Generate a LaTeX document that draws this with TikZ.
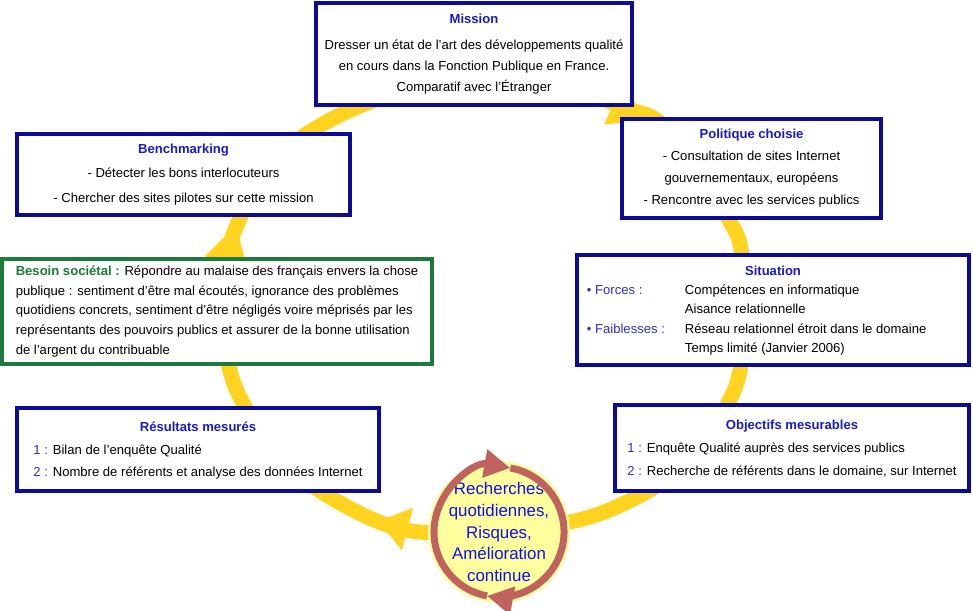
\documentclass[tikz,border=0pt]{standalone}
\usepackage{fontspec}
\setmainfont{Liberation Sans}
\usepackage{tikz}
\usetikzlibrary{arrows.meta, calc}
\definecolor{frameBlue}{HTML}{0B0B98}
\definecolor{titleBlue}{HTML}{1A1ACC}
\definecolor{itemBlue}{HTML}{3030C8}
\definecolor{needGreen}{HTML}{1B7A3C}
\definecolor{ringYellow}{HTML}{FFD320}
\definecolor{loopRed}{HTML}{C2625E}
\definecolor{loopFill}{HTML}{FFFF9E}
\definecolor{loopText}{HTML}{1010E8}
\newcommand{\boxhead}[1]{\textcolor{titleBlue}{\bfseries #1}}
\newcommand{\itemmark}[1]{\textcolor{itemBlue}{#1}}
\tikzset{
    stepframe/.style={rectangle, draw=frameBlue, fill=white, line width=0.1cm, align=center, inner sep=0pt, font=\fontsize{9.3}{15.6}\selectfont},
    needframe/.style={stepframe, draw=needGreen, align=left},
    ring/.style={draw=ringYellow, line width=0.375cm},
    ringhead/.style={fill=ringYellow},
    loopcircle/.style={circle, fill=loopFill, minimum size=3.25cm, inner sep=0pt, align=center, text=loopText, font=\fontsize{12}{15.6}\selectfont},
    looparrow/.style={draw=loopRed, line width=0.175cm, -{Triangle[length=0.65cm 0 1, width=0.68cm 0 1]}},
}

\begin{document}
\begin{tikzpicture}[x=0.025cm, y=0.025cm]
    \useasboundingbox (0,0) rectangle (973,-611);

    % yellow cycle behind the boxes
    \draw[ring] plot[smooth cycle, tension=0.6] coordinates {
        (480,-530) (405,-530) (335,-500) (275,-455) (245,-407) (229,-367)
        (222,-310) (227,-258) (240,-218) (268,-168) (316,-128) (390,-95)
        (480,-78) (565,-88) (625,-108) (668,-130) (729,-220) (742,-255)
        (748,-310) (741,-366) (728,-403) (690,-460) (635,-498) (570,-522)};
    \fill[ringhead, shift={(407.5,-529)}, rotate=165] (30,0) -- (0,22) -- (0,-22) -- cycle;
    \fill[ringhead, shift={(226,-262)}, rotate=75] (38,0) -- (0,22) -- (0,-22) -- cycle;
    \fill[ringhead, shift={(613,-104.5)}, rotate=-24] (38,0) -- (0,22) -- (0,-22) -- cycle;

    \node[stepframe, minimum width=7.9cm, minimum height=2.525cm, font=\fontsize{9.3}{14.9}\selectfont] (mission) at (474,-54)
        {\boxhead{Mission}\\[3.6pt] Dresser un état de l’art des développements qualité\\ en cours dans la Fonction Publique en France.\\ Comparatif avec l’Étranger};
    \node[stepframe, minimum width=8.325cm, minimum height=2.025cm, font=\fontsize{9.3}{17.4}\selectfont] (bench) at (183.5,-174.5)
        {\boxhead{Benchmarking}\\ - Détecter les bons interlocuteurs\\ - Chercher des sites pilotes sur cette mission};
    \node[stepframe, minimum width=6.475cm, minimum height=2.475cm] (policy) at (751.5,-168.5)
        {\boxhead{Politique choisie}\\ - Consultation de sites Internet\\ gouvernementaux, européens\\ - Rencontre avec les services publics};
    \node[needframe, minimum width=10.75cm, minimum height=2.625cm, font=\fontsize{9.3}{13.9}\selectfont] (need) at (217,-311.5)
        {{\color{needGreen}\bfseries Besoin sociétal :} Répondre au malaise des français envers la chose\\
         publique : sentiment d’être mal écoutés, ignorance des problèmes\\
         quotidiens concrets, sentiment d’être négligés voire méprisés par les\\
         représentants des pouvoirs publics et assurer de la bonne utilisation\\
         de l’argent du contribuable};
    \node[stepframe, minimum width=9.8cm, minimum height=2.75cm, font=\fontsize{9.3}{13.7}\selectfont] (situation) at (773,-310)
        {\begin{tabular}{@{}p{2.45cm}@{}p{6.85cm}@{}}
         \multicolumn{2}{c}{\boxhead{Situation}}\\
         \itemmark{• Forces :} & Compétences en informatique\\
          & Aisance relationnelle\\
         \itemmark{• Faiblesses :} & Réseau relationnel étroit dans le domaine\\
          & Temps limité (Janvier 2006)
         \end{tabular}};
    \node[stepframe, minimum width=9.05cm, minimum height=2.075cm, font=\fontsize{9.3}{16}\selectfont] (results) at (198,-449.5)
        {\begin{tabular}{@{}l@{}}
         \multicolumn{1}{@{}c@{}}{\boxhead{Résultats mesurés}}\\
         \itemmark{1 :} Bilan de l’enquête Qualité\\
         \itemmark{2 :} Nombre de référents et analyse des données Internet
         \end{tabular}};
    \node[stepframe, minimum width=8.85cm, minimum height=2.15cm, font=\fontsize{9.3}{16.4}\selectfont] (goals) at (792,-448)
        {\begin{tabular}{@{}l@{}}
         \multicolumn{1}{@{}c@{}}{\boxhead{Objectifs mesurables}}\\
         \itemmark{1 :} Enquête Qualité auprès des services publics\\
         \itemmark{2 :} Recherche de référents dans le domaine, sur Internet
         \end{tabular}};

    % central loop
    \node[loopcircle] (loop) at (499,-532) {Recherches\\ quotidiennes,\\ Risques,\\ Amélioration\\ continue};
    \draw[looparrow] ($(loop.center)+(80:1.625cm)$) arc[start angle=80, end angle=-100.6, radius=1.625cm];
    \draw[looparrow] ($(loop.center)+(259.4:1.625cm)$) arc[start angle=259.4, end angle=80, radius=1.625cm];
\end{tikzpicture}
\end{document}
